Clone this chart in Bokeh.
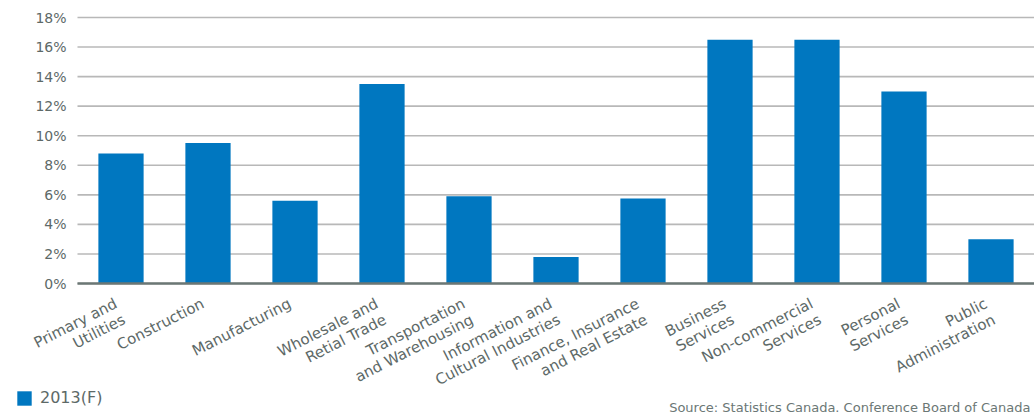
import math
from bokeh.plotting import figure
from bokeh.models import ColumnDataSource, Range1d, Legend, LegendItem
from bokeh.embed import file_html
from bokeh.resources import INLINE

categories = ["Primary and Utilities", "Construction", "Manufacturing",
              "Wholesale and Retial Trade", "Transportation and Warehousing",
              "Information and Cultural Industries", "Finance, Insurance and Real Estate",
              "Business Services", "Non-commercial Services", "Personal Services",
              "Public Administration"]
tick_labels = [["Primary and", "Utilities"], ["Construction"], ["Manufacturing"],
               ["Wholesale and", "Retial Trade"], ["Transportation", "and Warehousing"],
               ["Information and", "Cultural Industries"], ["Finance, Insurance", "and Real Estate"],
               ["Business", "Services"], ["Non-commercial", "Services"], ["Personal", "Services"],
               ["Public", "Administration"]]
values_2013 = [8.8, 9.5, 5.6, 13.5, 5.9, 1.8, 5.75, 16.5, 16.5, 13.0, 3.0]
y_ticks = [0, 2, 4, 6, 8, 10, 12, 14, 16, 18]
y_tick_labels = ["0%", "2%", "4%", "6%", "8%", "10%", "12%", "14%", "16%", "18%"]
series_name = "2013(F)"
source_text = "Source: Statistics Canada. Conference Board of Canada"

FONT = "DejaVu Sans"
TXT = "#5d6967"
BLUE = "#0077c0"

# layout (pixels)
W, H = 1034, 415
LEFT, TOP, BOTTOM = 77, 17, 132
Y_MAX = 18
n = len(categories)
px_x = n / (W - LEFT)                 # data units per px
px_y = Y_MAX / (H - TOP - BOTTOM)

x_pos = [i + 0.5 for i in range(n)]

p = figure(width=W, height=H,
           x_range=Range1d(-LEFT * px_x, n), y_range=Range1d(-BOTTOM * px_y, Y_MAX + TOP * px_y),
           output_backend="svg", toolbar_location=None,
           min_border=0, x_axis_type=None, y_axis_type=None)
p.outline_line_color = None
p.grid.visible = False

# gridlines
p.segment(x0=[0] * len(y_ticks), x1=[n] * len(y_ticks), y0=y_ticks, y1=y_ticks,
          line_color="#b8b8b8", line_width=1.6)

# bars
src = ColumnDataSource(dict(x=x_pos, val=values_2013, cat=categories))
r = p.vbar(x="x", top="val", width=0.52, source=src, color=BLUE, line_color=None)

# zero axis line
p.segment(x0=[0], x1=[n], y0=[0], y1=[0], line_color="#6b7775", line_width=2.5)

# y tick labels
p.text(x=[0] * len(y_ticks), y=y_ticks, text=y_tick_labels, x_offset=-11,
       text_align="right", text_baseline="middle", text_font={"value": FONT},
       text_font_size="14px", text_color=TXT)

# x category labels, rotated, right-aligned, multi-line
ANG = math.radians(27)
LINE_H = 18
nx, ny = math.sin(ANG), math.cos(ANG)
lx, ly, lt, lxo, lyo = [], [], [], [], []
for i, lines in enumerate(tick_labels):
    for k, line in enumerate(lines):
        lx.append(x_pos[i]); ly.append(0); lt.append(line)
        lxo.append(-9 + nx * LINE_H * k)
        lyo.append(11 + ny * LINE_H * k)
p.text(x=lx, y=ly, text=lt, x_offset=lxo, y_offset=lyo, angle=ANG,
       text_align="right", text_baseline="top", text_font={"value": FONT},
       text_font_size="15px", text_color=TXT)

# source note
p.text(x=[n], y=[-BOTTOM * px_y], text=[source_text], x_offset=-4, y_offset=-1,
       text_align="right", text_baseline="bottom", text_font={"value": FONT},
       text_font_size="13px", text_color="#6b7775")

legend = Legend(items=[LegendItem(label=series_name, renderers=[r])],
                location=(15, 8), orientation="horizontal",
                glyph_width=18, glyph_height=18, label_standoff=7,
                label_text_font=FONT, label_text_font_size="16px", label_text_color=TXT,
                border_line_color=None, background_fill_alpha=0, padding=0, margin=0)
p.add_layout(legend, "center")

open("out.html", "w").write(file_html(p, INLINE))
